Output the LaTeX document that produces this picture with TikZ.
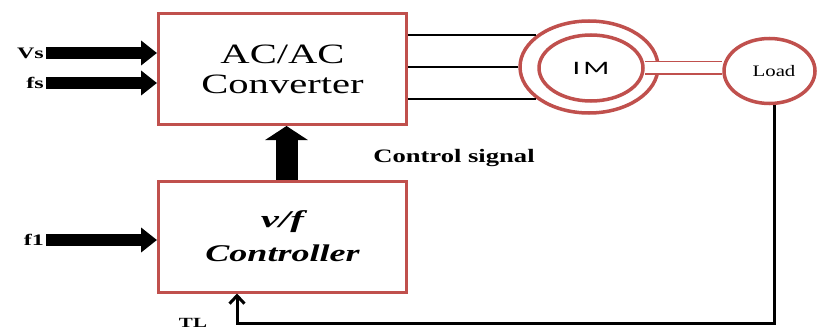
\documentclass[tikz,border=0pt]{standalone}
\usepackage{fontspec}
\setmainfont{Liberation Serif}
\newfontfamily\imfont{Carlito}
\usetikzlibrary{arrows.meta,shapes.geometric}
\definecolor{boxred}{RGB}{192,80,77}
\newcommand{\wide}[2][1.45]{\scalebox{#1}[1]{#2}}
\begin{document}
\begin{tikzpicture}[x=1pt,y=-1pt,
blockbox/.style={draw=boxred,line width=3pt,minimum width=248pt,minimum height=111pt,inner sep=0pt,align=center},
ring/.style={ellipse,draw=boxred,line width=3.5pt,inner sep=0pt},
inlabel/.style={anchor=east,inner sep=2pt,font=\bfseries\fontsize{16}{18}\selectfont},
fatarrow/.style={line width=12pt,-{Triangle[length=16pt,width=24pt]}},
wire/.style={line width=2.2pt},
fb/.style={line width=3pt,-{Straight Barb[length=8pt,width=15pt]}}]
\fill[white](0,0)rectangle(818,334);
\useasboundingbox(0,0)rectangle(818,334);
\node[blockbox,font=\fontsize{28}{30}\selectfont](conv)at(282.5,69){\wide{AC/AC}\\\wide{Converter}};
\node[blockbox,font=\fontsize{24}{34}\selectfont\bfseries\itshape](ctrl)at(282.5,236.5){\wide[1.7]{v/f}\\\wide[1.5]{Controller}};
\node[ring,minimum width=138pt,minimum height=92pt](im)at(589,67){};
\node[ring,minimum width=104pt,minimum height=66pt](imcore)at(591,68){\imfont\fontsize{19}{20}\selectfont\wide[1.6]{I\hspace{2pt}M}};
\node[ring,minimum width=91pt,minimum height=65pt](load)at(769.5,71){\fontsize{16}{18}\selectfont\hspace*{9pt}\wide[1.3]{Load}};
\draw[draw=boxred,line width=1.5pt,double=white,double distance=11pt](imcore.east)--(imcore.east-|load.west);
\draw[wire](im.149)--(im.149-|conv.east)
(im.west)--(im.west-|conv.east)
(im.211)--(im.211-|conv.east);
\node[inlabel](vs)at(46,53){\wide[1.5]{Vs}};
\node[inlabel](fs)at(46,83){\wide[1.5]{fs}};
\node[inlabel](fone)at(46,240){\wide[1.5]{f1}};
\draw[fatarrow](vs.east)--(vs.east-|conv.west);
\draw[fatarrow](fs.east)--(fs.east-|conv.west);
\draw[fatarrow](fone.east)--(fone.east-|ctrl.west);
\draw[line width=22pt,-{Triangle[length=14pt,width=42pt]}]([xshift=4pt]ctrl.north)--([xshift=4pt]conv.south);
\node[font=\bfseries\fontsize{19}{20}\selectfont](sig)at(454,158){\wide[1.4]{Control signal}};
\node[font=\bfseries\fontsize{14}{16}\selectfont](tl)at(193,323){\wide[1.5]{TL}};
\coordinate(fbcorner)at(774,323);
\draw[fb](load.south-|fbcorner)--(fbcorner)-|([xshift=-45.5pt]ctrl.south);
\end{tikzpicture}
\end{document}
